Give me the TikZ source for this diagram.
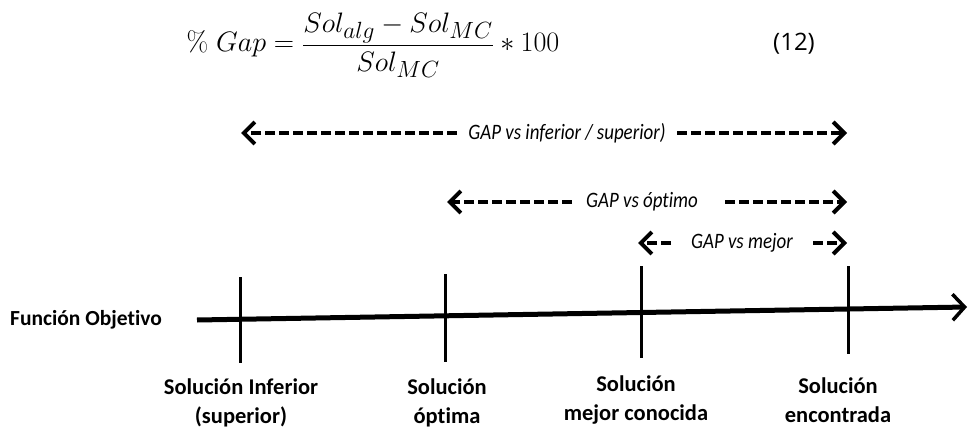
\documentclass[tikz,border=0pt]{standalone}
\usepackage{graphicx}
\usepackage[no-math]{fontspec}
\setmainfont{Carlito}[Ligatures=NoCommon]
\newfontfamily\labfont{Carlito}[Ligatures=NoCommon]
\newfontfamily\gapfont{Carlito}[FakeStretch=0.86,Ligatures=NoCommon]
\newfontfamily\eqnfont{Open Sans}
\usetikzlibrary{arrows.meta}
\begin{document}
\begin{tikzpicture}[x=1pt,y=-1pt,
  lbl/.style={font=\labfont\bfseries\fontsize{22.5}{29}\selectfont, align=center, inner sep=0pt},
  axlbl/.style={font=\labfont\bfseries\fontsize{21.5}{26}\selectfont, inner sep=0pt},
  gaplbl/.style={font=\gapfont\itshape\fontsize{22}{26}\selectfont, inner sep=0pt},
  gapline/.style={line width=4pt, dash pattern=on 10pt off 4pt, -{Straight Barb[length=11pt,width=22pt]}},
  axisline/.style={line width=5pt, -{Straight Barb[length=12pt,width=26pt,line width=3.5pt]}},
  tickline/.style={line width=3pt}]
\useasboundingbox (0,0) rectangle (969,436);

% equation
\node[inner sep=0pt] (eq) at (373,45) {\scalebox{1.13}{\fontsize{24.88}{30}\selectfont $\displaystyle \mathrm{\%}\;Gap = \frac{Sol_{alg}-Sol_{MC}}{Sol_{MC}} * 100$}};
\node[inner sep=0pt, font=\eqnfont\fontsize{24}{28}\selectfont] (eqn) at (794,44) {(12)};

% GAP arrows
\node[gaplbl] (g1) at (567,133) {GAP vs inferior / superior)};
\coordinate (g1l) at (241,133); \coordinate (g1la) at (457,133);
\coordinate (g1r) at (847,133); \coordinate (g1ra) at (677,133);
\draw[gapline] (g1la) -- (g1l);
\draw[gapline] (g1ra) -- (g1r);

\node[gaplbl] (g2) at (642,202) {GAP vs óptimo};
\coordinate (g2l) at (447,202); \coordinate (g2la) at (572,202);
\coordinate (g2r) at (847,202); \coordinate (g2ra) at (725,202);
\draw[gapline] (g2la) -- (g2l);
\draw[gapline] (g2ra) -- (g2r);

\node[gaplbl] (g3) at (742,243) {GAP vs mejor};
\coordinate (g3l) at (638,243); \coordinate (g3la) at (671,243);
\coordinate (g3r) at (847,243); \coordinate (g3ra) at (813,243);
\draw[gapline] (g3la) -- (g3l);
\draw[gapline] (g3ra) -- (g3r);

% axis
\node[axlbl] (fo) at (86,320) {Función Objetivo};
\coordinate (axL) at (197,320);
\coordinate (axR) at (967,307);
\draw[axisline] (axL) -- (axR);

% ticks
\coordinate (t1a) at (240,277); \coordinate (t1b) at (240,363);
\coordinate (t2a) at (445,274); \coordinate (t2b) at (445,362);
\coordinate (t3a) at (641,266); \coordinate (t3b) at (641,358);
\coordinate (t4a) at (848,266); \coordinate (t4b) at (848,354);
\draw[tickline] (t1a) -- (t1b);
\draw[tickline] (t2a) -- (t2b);
\draw[tickline] (t3a) -- (t3b);
\draw[tickline] (t4a) -- (t4b);

% labels
\node[lbl] (s1) at (241,403) {Solución Inferior\\(superior)};
\node[lbl] (s2) at (447,403) {Solución\\óptima};
\node[lbl] (s3) at (636,400) {Solución\\mejor conocida};
\node[lbl] (s4) at (838,400) {Solución\\encontrada};
\end{tikzpicture}
\end{document}
